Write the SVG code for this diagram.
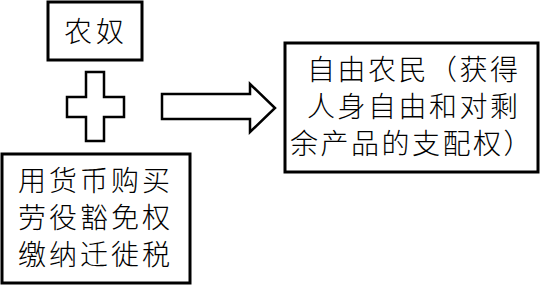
<svg xmlns="http://www.w3.org/2000/svg" width="541" height="286" viewBox="0 0 541 286">
<style>
.box{fill:#fff;stroke:#000;stroke-width:3}
.shape{fill:#fff;stroke:#000;stroke-width:2.5;stroke-linejoin:miter}
.t{font-family:"Noto Sans CJK SC","Noto Sans CJK JP",sans-serif;font-size:28px;fill:#000;font-weight:300}
.r{letter-spacing:2.5px}
</style>
<rect width="541" height="286" fill="#fff"/>
<g id="serf">
<rect class="box" x="48" y="2" width="94" height="58"/>
<text class="t" x="64" y="42" letter-spacing="4">农奴</text>
</g>
<g id="plus">
<path class="shape" d="M86,72 H104 V97 H124 V117 H104 V141 H86 V117 H67 V97 H86 Z"/>
</g>
<g id="means">
<rect class="box" x="2" y="154" width="188" height="129"/>
<text class="t" letter-spacing="3"><tspan x="18" y="191">用货币购买</tspan><tspan x="18" y="228">劳役豁免权</tspan><tspan x="18" y="265">缴纳迁徙税</tspan></text>
</g>
<g id="connectors">
<path class="shape" d="M162,94 H250 V84 L275,108 L250,132 V119 H162 Z"/>
</g>
<g id="free">
<rect class="box" x="285" y="43" width="253" height="129"/>
<text class="t r"><tspan x="307" y="80">自由农民（获得</tspan><tspan x="307" y="117">人身自由和对剩</tspan><tspan x="290" y="154">余产品的支配权）</tspan></text>
</g>
</svg>
